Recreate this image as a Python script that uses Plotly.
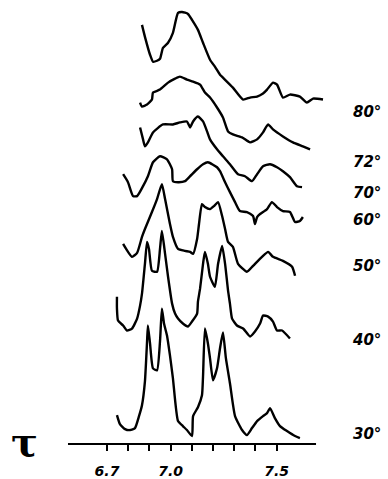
import plotly.graph_objects as go

# Temperature labels (stack order top -> bottom)
temps = ["80°", "72°", "70°", "60°", "50°", "40°", "30°"]
# vertical stacking offset of each trace's baseline
offsets = [346, 296, 258, 224, 171, 106, 6]
# y position of each label
label_y = [333, 283, 252, 225, 179, 104, 10]

# tau (ppm) positions and intensities for each spectrum
tau_80 = [6.865, 6.879, 6.903, 6.917, 6.936, 6.950, 6.964, 6.988, 7.011, 7.035, 7.054, 7.082, 7.101, 7.129,
          7.153, 7.186, 7.209, 7.233, 7.247, 7.294, 7.342, 7.375, 7.408, 7.436, 7.455, 7.483, 7.502, 7.530,
          7.563, 7.610, 7.643, 7.672, 7.719]
int_80 = [75, 63, 45, 38, 39, 41, 52, 57, 67, 87, 88, 86, 80, 70, 57, 40, 33, 25, 22, 12, 0, 2, 3, 6, 10, 17,
          15, 2, 5, 3, -3, 1, 0]

tau_72 = [6.856, 6.865, 6.889, 6.912, 6.917, 6.950, 6.988, 7.021, 7.044, 7.077, 7.106, 7.139, 7.162, 7.186,
          7.219, 7.247, 7.271, 7.294, 7.337, 7.375, 7.408, 7.436, 7.460, 7.483, 7.530, 7.577, 7.624, 7.658]
int_72 = [47, 43, 45, 50, 57, 60, 67, 71, 73, 70, 68, 65, 57, 52, 42, 32, 18, 15, 12, 7, 10, 17, 25, 20, 13,
          7, 3, 0]

tau_70 = [6.856, 6.870, 6.879, 6.893, 6.917, 6.964, 7.011, 7.044, 7.077, 7.092, 7.106, 7.129, 7.153, 7.172,
          7.186, 7.219, 7.247, 7.280, 7.318, 7.351, 7.384, 7.408, 7.436, 7.469, 7.502, 7.530, 7.563, 7.596,
          7.620]
int_70 = [60, 48, 41, 45, 55, 63, 63, 65, 66, 60, 66, 71, 66, 56, 48, 38, 31, 23, 13, 11, 6, 13, 21, 23, 20,
          16, 10, 1, 0]

tau_60 = [6.776, 6.799, 6.823, 6.842, 6.870, 6.893, 6.917, 6.950, 6.983, 7.007, 7.011, 7.035, 7.068, 7.092,
          7.125, 7.153, 7.176, 7.219, 7.233, 7.257, 7.280, 7.304, 7.327, 7.360, 7.389, 7.398, 7.408, 7.422,
          7.455, 7.478, 7.502, 7.530, 7.563, 7.587, 7.610, 7.624]
int_60 = [47, 39, 25, 25, 35, 45, 59, 65, 62, 52, 40, 39, 40, 45, 52, 57, 59, 54, 50, 39, 29, 19, 10, 9, 5,
          -3, 4, 7, 12, 19, 14, 10, 9, -1, 0, 4]

tau_50 = [6.776, 6.818, 6.842, 6.865, 6.879, 6.912, 6.936, 6.959, 6.974, 6.997, 7.011, 7.035, 7.068, 7.092,
          7.106, 7.125, 7.134, 7.148, 7.162, 7.186, 7.205, 7.224, 7.243, 7.257, 7.271, 7.294, 7.318, 7.360,
          7.389, 7.431, 7.460, 7.483, 7.530, 7.573, 7.587]
int_50 = [30, 17, 21, 37, 45, 62, 75, 90, 75, 50, 37, 25, 23, 22, 20, 35, 50, 70, 67, 65, 68, 72, 58, 45, 32,
          27, 10, 2, 8, 17, 22, 17, 13, 7, -2]

tau_40 = [6.747, 6.747, 6.752, 6.776, 6.794, 6.818, 6.842, 6.856, 6.865, 6.879, 6.889, 6.898, 6.912, 6.936,
          6.950, 6.959, 6.974, 6.988, 7.007, 7.021, 7.035, 7.058, 7.082, 7.101, 7.125, 7.129, 7.139, 7.153,
          7.162, 7.176, 7.186, 7.209, 7.224, 7.243, 7.257, 7.271, 7.280, 7.290, 7.313, 7.342, 7.375, 7.398,
          7.422, 7.436, 7.460, 7.483, 7.502, 7.526, 7.563]
int_40 = [42, 30, 18, 13, 8, 10, 20, 33, 45, 75, 97, 90, 68, 67, 90, 108, 85, 62, 35, 25, 20, 15, 12, 17, 25,
          37, 50, 75, 87, 75, 62, 52, 75, 93, 75, 48, 35, 20, 13, 10, 2, 7, 15, 23, 22, 17, 8, 8, 0]

tau_30 = [6.747, 6.761, 6.785, 6.809, 6.832, 6.851, 6.865, 6.879, 6.889, 6.893, 6.903, 6.917, 6.936, 6.950,
          6.959, 6.969, 6.983, 6.997, 7.011, 7.035, 7.058, 7.077, 7.101, 7.106, 7.129, 7.148, 7.153, 7.162,
          7.176, 7.186, 7.200, 7.219, 7.233, 7.247, 7.261, 7.280, 7.304, 7.337, 7.360, 7.384, 7.408, 7.436,
          7.455, 7.469, 7.492, 7.516, 7.549, 7.587, 7.610]
int_30 = [23, 14, 9, 8, 10, 22, 33, 57, 97, 113, 95, 70, 68, 97, 130, 115, 103, 83, 60, 17, 12, 8, 2, 22, 31,
          43, 62, 110, 95, 80, 58, 70, 90, 106, 80, 55, 22, 8, 3, 10, 17, 22, 25, 30, 20, 12, 7, 2, 0]

taus = [tau_80, tau_72, tau_70, tau_60, tau_50, tau_40, tau_30]
ints = [int_80, int_72, int_70, int_60, int_50, int_40, int_30]

tick_vals = [6.7, 6.8, 6.9, 7.0, 7.1, 7.2, 7.3, 7.4, 7.5]
tick_text = ["6.7", "", "", "7.0", "", "", "", "", "7.5"]

fig = go.Figure()
for name, xs, ys, off in zip(temps, taus, ints, offsets):
    fig.add_trace(go.Scatter(x=xs, y=[v + off for v in ys], mode="lines", name=name,
                             line=dict(color="black", width=2.4, shape="spline", smoothing=0.5),
                             showlegend=False, hoverinfo="skip"))

for name, ly in zip(temps, label_y):
    fig.add_annotation(x=8.003, y=ly, text=name, showarrow=False, xanchor="right", yanchor="middle",
                       font=dict(family="DejaVu Sans", size=15, color="black", weight="bold", style="italic"))

fig.add_annotation(x=6.3085, y=3, text="τ", showarrow=False, xanchor="center", yanchor="middle",
                   font=dict(family="DejaVu Serif", size=40, color="black", weight="bold"))

# baseline axis line
fig.add_shape(type="line", xref="x", yref="paper", x0=6.516, x1=7.686, y0=0, y1=0,
              line=dict(color="black", width=2))

fig.update_xaxes(range=[6.1953, 8.0255], tickvals=tick_vals, ticktext=tick_text, ticks="outside",
                 ticklen=6, tickwidth=2, tickcolor="black", showline=False, showgrid=False,
                 zeroline=False, ticklabelstandoff=8,
                 tickfont=dict(family="DejaVu Sans", size=14, color="black",
                               weight="bold", style="italic"))
fig.update_yaxes(range=[0, 446], visible=False)
fig.update_layout(width=388, height=479, margin=dict(l=0, r=0, t=0, b=33),
                  plot_bgcolor="white", paper_bgcolor="white")
fig.write_html("out.html", config={"displayModeBar": False},
               post_script="document.body.style.margin='0';document.body.style.overflow='hidden';")
